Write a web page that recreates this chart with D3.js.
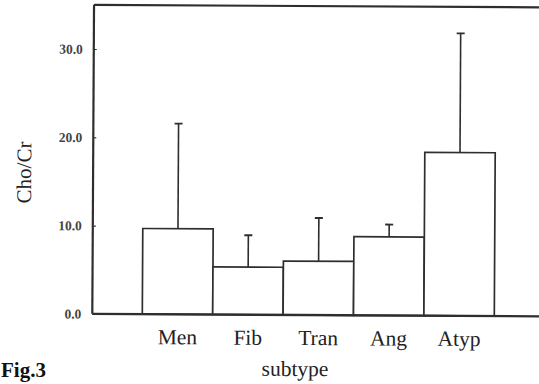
<!DOCTYPE html>
<html>
<head>
<meta charset="utf-8">
<script src="https://cdn.jsdelivr.net/npm/d3@7"></script>
<style>
  body { margin: 0; background: #fff; }
  svg { display: block; }
</style>
</head>
<body>
<svg id="chart" width="539" height="384"></svg>
<script>
// data
const subtypes = ["Men", "Fib", "Tran", "Ang", "Atyp"];
const meanValues = [9.7, 5.4, 6.1, 8.9, 18.5];
const sdTops = [21.6, 9.0, 11.0, 10.3, 32.0];
const yTicks = [0, 10, 20, 30];

const plotLeft = 93, plotRight = 548, plotTop = 6, plotBottom = 315;

const svg = d3.select("#chart");
// the scan is tilted a little, so is the drawing
const g = svg.append("g").attr("transform", "rotate(0.32, 300, 190)");

const x = d3.scaleBand().domain(subtypes).range([143, 495]).padding(0);
const y = d3.scaleLinear().domain([0, 35]).range([plotBottom, plotTop]);

const ink = "#2e2e2e";

//Bars
g.selectAll("rect.bar")
  .data(subtypes)
  .enter()
  .append("rect")
  .attr("class", "bar")
  .attr("x", (d) => x(d))
  .attr("y", (d, i) => y(meanValues[i]))
  .attr("width", x.bandwidth())
  .attr("height", (d, i) => y(0) - y(meanValues[i]))
  .attr("fill", "#fff")
  .attr("stroke", ink)
  .attr("stroke-width", 1.7);

//Error bars (upper only)
const errs = g.selectAll("g.err")
  .data(subtypes)
  .enter()
  .append("g")
  .attr("class", "err");

errs.append("line")
  .attr("x1", (d) => x(d) + x.bandwidth() / 2)
  .attr("x2", (d) => x(d) + x.bandwidth() / 2)
  .attr("y1", (d, i) => y(meanValues[i]))
  .attr("y2", (d, i) => y(sdTops[i]))
  .attr("stroke", ink)
  .attr("stroke-width", 1.6);

errs.append("line")
  .attr("x1", (d) => x(d) + x.bandwidth() / 2 - 4)
  .attr("x2", (d) => x(d) + x.bandwidth() / 2 + 4)
  .attr("y1", (d, i) => y(sdTops[i]))
  .attr("y2", (d, i) => y(sdTops[i]))
  .attr("stroke", ink)
  .attr("stroke-width", 1.9);

//Frame
g.append("line").attr("x1", plotLeft).attr("x2", plotRight).attr("y1", plotTop).attr("y2", plotTop)
  .attr("stroke", ink).attr("stroke-width", 2.2);
g.append("line").attr("x1", plotLeft).attr("x2", plotRight).attr("y1", plotBottom).attr("y2", plotBottom)
  .attr("stroke", ink).attr("stroke-width", 2.4);

//Y axis
const yAxis = d3.axisRight(y)
  .tickValues(yTicks)
  .tickFormat(d3.format(".1f"))
  .tickSize(3);

const ya = g.append("g")
  .attr("transform", `translate(${plotLeft},0)`)
  .call(yAxis);
ya.select(".domain").attr("stroke", ink).attr("stroke-width", 2.2)
  .attr("d", `M0,${plotTop}V${plotBottom}`);
ya.selectAll(".tick line").attr("stroke", ink).attr("stroke-width", 1.2);
ya.selectAll(".tick text")
  .attr("x", -11)
  .attr("text-anchor", "end")
  .attr("font-family", "'Liberation Serif', 'DejaVu Serif', serif")
  .attr("font-weight", "bold")
  .attr("font-size", 13.5)
  .attr("fill", "#444");

//X axis labels
const xAxis = d3.axisBottom(x).tickSize(0).tickPadding(0);
const xa = g.append("g")
  .attr("transform", `translate(0,${plotBottom})`)
  .call(xAxis);
xa.select(".domain").remove();
xa.selectAll(".tick text")
  .attr("y", 30)
  .attr("dy", 0)
  .attr("font-family", "'Liberation Serif', 'DejaVu Serif', serif")
  .attr("font-size", 21.5)
  .attr("fill", "#222");

//Axis titles
g.append("text")
  .attr("x", 296)
  .attr("y", 376)
  .attr("text-anchor", "middle")
  .attr("font-family", "'Liberation Serif', serif")
  .attr("font-size", 21.5)
  .attr("fill", "#222")
  .text("subtype");

g.append("text")
  .attr("transform", "translate(31,174) rotate(-90)")
  .attr("text-anchor", "middle")
  .attr("font-family", "'Liberation Serif', serif")
  .attr("font-size", 21)
  .attr("fill", "#222")
  .text("Cho/Cr");

//Figure caption, at the lower left corner
svg.append("text")
  .attr("x", 1)
  .attr("y", 377)
  .attr("font-family", "'Liberation Serif', serif")
  .attr("font-weight", "bold")
  .attr("font-size", 21)
  .attr("fill", "#111")
  .text("Fig.3");
</script>
</body>
</html>
